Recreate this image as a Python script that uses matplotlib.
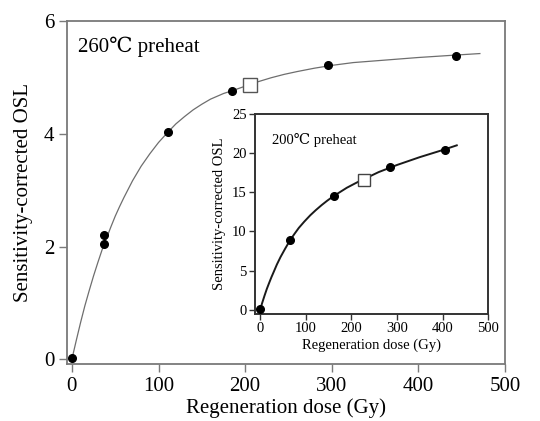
import matplotlib
matplotlib.use("Agg")
import matplotlib.pyplot as plt

plt.rcParams['font.family'] = ['Liberation Serif', 'DejaVu Serif']

# ---- main panel (260 C preheat) ----
main_dose = [0, 37, 37, 111, 185, 296, 444]
main_osl = [0.02, 2.20, 2.05, 4.03, 4.77, 5.22, 5.38]
main_de_dose = [206]
main_de_osl = [4.87]
main_curve_x = [0, 5, 10, 15, 20, 25, 30, 35, 40, 45, 50, 55, 60, 65, 70, 75, 80, 90,
                100, 110, 120, 130, 140, 150, 160, 175, 185, 200, 215, 230, 245, 260,
                280, 300, 325, 350, 375, 400, 420, 440, 471]
main_curve_y = [0, 0.33, 0.65, 0.95, 1.22, 1.48, 1.72, 1.95, 2.15, 2.35, 2.54, 2.71,
                2.87, 3.02, 3.17, 3.30, 3.43, 3.65, 3.85, 4.02, 4.18, 4.31, 4.43, 4.53,
                4.62, 4.72, 4.77, 4.85, 4.93, 5.00, 5.06, 5.11, 5.17, 5.22, 5.27, 5.30,
                5.33, 5.36, 5.38, 5.40, 5.43]
main_xticks = [0, 100, 200, 300, 400, 500]
main_yticks = [0, 2, 4, 6]

# ---- inset panel (200 C preheat) ----
ins_dose = [0, 65, 161, 284, 405]
ins_osl = [0.17, 8.85, 14.45, 18.2, 20.4]
ins_de_dose = [227]
ins_de_osl = [16.6]
ins_curve_x = [0, 5, 10, 15, 20, 25, 30, 37, 45, 55, 65, 75, 85, 97, 110, 122, 135,
               147, 160, 175, 190, 208, 225, 242, 260, 280, 300, 325, 350, 375, 400, 431]
ins_curve_y = [0, 0.95, 1.85, 2.70, 3.45, 4.18, 4.85, 5.80, 6.75, 7.80, 8.80, 9.65,
               10.45, 11.25, 12.05, 12.70, 13.35, 13.90, 14.45, 15.00, 15.55, 16.10,
               16.60, 17.05, 17.55, 18.00, 18.45, 18.95, 19.45, 19.90, 20.35, 20.95]
ins_xticks = [0, 100, 200, 300, 400, 500]
ins_yticks = [0, 5, 10, 15, 20, 25]

fig = plt.figure(figsize=(5.4, 4.21), dpi=100)

ax = fig.add_axes([0.1235, 0.1347, 0.8117, 0.8143])
grey = '#7a7a7a'
ax.plot(main_curve_x, main_curve_y, color='#6e6e6e', lw=0.9, zorder=2)
ax.plot(main_dose, main_osl, 'o', color='black', ms=5.5, zorder=3)
ax.plot(main_de_dose, main_de_osl, 's', mfc='white', mec='#555555', mew=1.0, ms=10, zorder=4)
ax.set_xlim(-6, 500)
ax.set_ylim(-0.09, 6)
ax.set_xticks(main_xticks)
ax.set_yticks(main_yticks)
for s in ax.spines.values():
    s.set_color(grey)
    s.set_linewidth(1.3)
ax.tick_params(direction='out', length=6, width=1.0, color=grey, labelsize=15,
               top=False, right=False, pad=3)
ax.set_xlabel('Regeneration dose (Gy)', fontsize=15, labelpad=2)
ax.set_ylabel('Sensitivity-corrected OSL', fontsize=15, labelpad=8)
ax.text(0.026, 0.955, '260℃ preheat', transform=ax.transAxes, fontsize=15,
        ha='left', va='top')

ins = fig.add_axes([0.4722, 0.2542, 0.432, 0.4762])
ins.set_facecolor('white')
ins.plot(ins_curve_x, ins_curve_y, color='#1a1a1a', lw=1.4, zorder=2)
ins.plot(ins_dose, ins_osl, 'o', color='black', ms=5.5, zorder=3)
ins.plot(ins_de_dose, ins_de_osl, 's', mfc='white', mec='#444444', mew=1.0, ms=9, zorder=4)
ins.set_xlim(-11, 500)
ins.set_ylim(-0.5, 25)
ins.set_xticks(ins_xticks)
ins.set_yticks(ins_yticks)
for s in ins.spines.values():
    s.set_color('#333333')
    s.set_linewidth(1.4)
ins.tick_params(direction='out', length=4, width=1.0, color='#333333', labelsize=10.5,
                top=False, right=False, pad=2)
ins.set_xlabel('Regeneration dose (Gy)', fontsize=10.5, labelpad=2)
ins.set_ylabel('Sensitivity-corrected OSL', fontsize=10.5, labelpad=4)
ins.text(0.075, 0.87, '200℃ preheat', transform=ins.transAxes, fontsize=10.5,
         ha='left', va='center')

fig.savefig('out.png', dpi=100)
